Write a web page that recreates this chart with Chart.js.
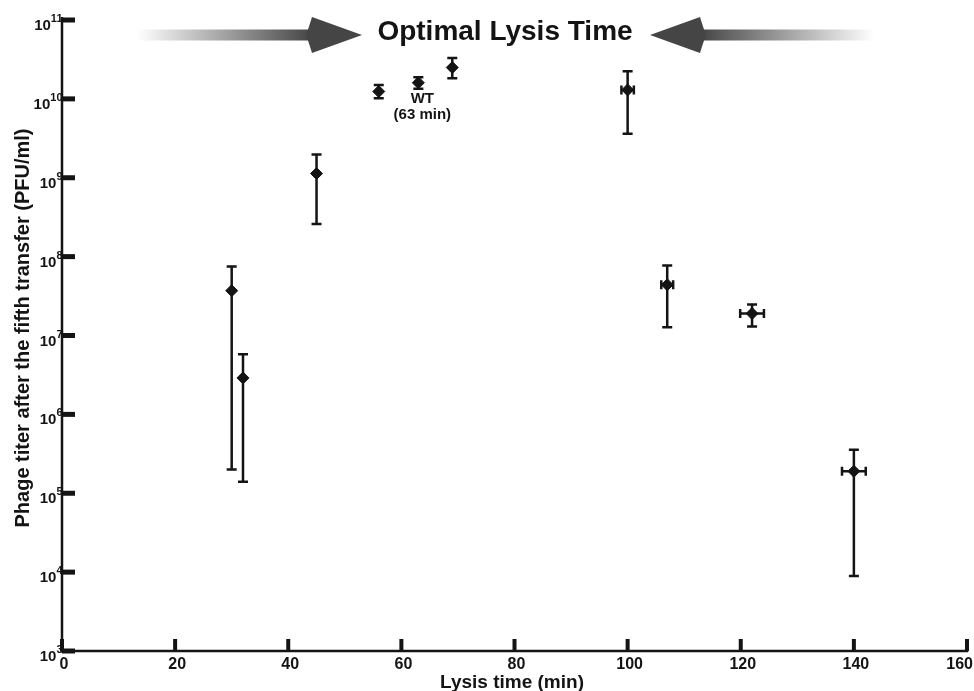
<!DOCTYPE html>
<html>
<head>
<meta charset="utf-8">
<title>Optimal Lysis Time</title>
<script src="https://cdn.jsdelivr.net/npm/chart.js@4.4.1/dist/chart.umd.min.js"></script>
<style>
    html, body { margin: 0; padding: 0; background: #fff; }
    #wrap { width: 974px; height: 691px; }
</style>
</head>
<body>
<div id="wrap"><canvas id="lysisChart" width="974" height="691"></canvas></div>
<script>
// lysis time (min) and phage titer after the fifth transfer (PFU/ml)
const lysisTime = [30, 32, 45, 56, 63, 69, 100, 107, 122, 140];
const titer = [3.7e7, 2.9e6, 1.13e9, 1.24e10, 1.6e10, 2.5e10, 1.3e10, 4.4e7, 1.9e7, 1.9e5];
const titerLow = [2.0e5, 1.4e5, 2.6e8, 1.02e10, 1.34e10, 1.83e10, 3.6e9, 1.27e7, 1.3e7, 8.9e3];
const titerHigh = [7.5e7, 5.8e6, 1.97e9, 1.5e10, 1.88e10, 3.3e10, 2.24e10, 7.7e7, 2.48e7, 3.57e5];
const timeErr = [0, 0, 0, 0, 0, 0, 1.1, 1.05, 2.1, 2.1];

const xTicks = [0, 20, 40, 60, 80, 100, 120, 140, 160];
const yExponents = [3, 4, 5, 6, 7, 8, 9, 10, 11];

const FONT = '"Liberation Sans", Arial, Helvetica, sans-serif';
const INK = '#141414';

document.addEventListener('DOMContentLoaded', function() {
    const points = lysisTime.map((t, i) => ({ x: t, y: titer[i] }));

    // error bars, drawn under the markers
    const errorBars = {
        id: 'errorBars',
        beforeDatasetsDraw(chart) {
            const ctx = chart.ctx;
            const xs = chart.scales.x;
            const ys = chart.scales.y;
            ctx.save();
            ctx.strokeStyle = INK;
            ctx.lineWidth = 2.5;
            ctx.lineCap = 'butt';
            lysisTime.forEach((t, i) => {
                const px = xs.getPixelForValue(t);
                const py = ys.getPixelForValue(titer[i]);
                const top = ys.getPixelForValue(titerHigh[i]);
                const bot = ys.getPixelForValue(titerLow[i]);
                ctx.beginPath();
                ctx.moveTo(px, top); ctx.lineTo(px, bot);
                ctx.moveTo(px - 5, top); ctx.lineTo(px + 5, top);
                ctx.moveTo(px - 5, bot); ctx.lineTo(px + 5, bot);
                if (timeErr[i] > 0) {
                    const l = xs.getPixelForValue(t - timeErr[i]);
                    const r = xs.getPixelForValue(t + timeErr[i]);
                    ctx.moveTo(l, py); ctx.lineTo(r, py);
                    ctx.moveTo(l, py - 4.5); ctx.lineTo(l, py + 4.5);
                    ctx.moveTo(r, py - 4.5); ctx.lineTo(r, py + 4.5);
                }
                ctx.stroke();
            });
            ctx.restore();
        }
    };

    function drawArrow(ctx, tailX, tipX, y) {
        const dir = tipX > tailX ? 1 : -1;
        const backX = tipX - dir * 50;
        const grad = ctx.createLinearGradient(tailX, 0, backX, 0);
        grad.addColorStop(0, 'rgba(255,255,255,1)');
        grad.addColorStop(1, '#454545');
        ctx.fillStyle = grad;
        ctx.fillRect(Math.min(tailX, backX + dir * 6), y - 5.5, Math.abs(backX + dir * 6 - tailX), 11);
        ctx.fillStyle = '#454545';
        ctx.beginPath();
        ctx.moveTo(tipX, y);
        ctx.lineTo(backX, y - 18);
        ctx.quadraticCurveTo(backX - dir * 3, y - 8, backX - dir * 6, y);
        ctx.quadraticCurveTo(backX - dir * 3, y + 8, backX, y + 18);
        ctx.closePath();
        ctx.fill();
    }

    // axes, ticks, labels, title and arrows
    const decorations = {
        id: 'decorations',
        afterDraw(chart) {
            const ctx = chart.ctx;
            const xs = chart.scales.x;
            const ys = chart.scales.y;
            const area = chart.chartArea;
            ctx.save();
            ctx.fillStyle = INK;

            // axis lines
            ctx.fillRect(area.left - 1.25, area.top - 3, 2.5, area.bottom - area.top + 4.5);
            ctx.fillRect(area.left - 1.25, area.bottom - 1.25, area.right - area.left + 2.5, 2.5);

            // y ticks + labels
            yExponents.forEach(e => {
                const py = ys.getPixelForValue(Math.pow(10, e));
                ctx.fillRect(area.left, py - 2.5, 13, 5);
                ctx.textBaseline = 'alphabetic';
                ctx.textAlign = 'right';
                ctx.font = 'bold 11px ' + FONT;
                const sup = String(e);
                const supW = ctx.measureText(sup).width;
                ctx.fillText(sup, area.left + 0.5, py + 2);
                ctx.font = 'bold 15px ' + FONT;
                ctx.fillText('10', area.left + 0.5 - supW, py + 10);
            });

            // x ticks + labels
            ctx.font = 'bold 16px ' + FONT;
            ctx.textAlign = 'center';
            xTicks.forEach(v => {
                const px = xs.getPixelForValue(v);
                ctx.fillRect(px - 2, area.bottom - 12, 4, 12);
                const w = ctx.measureText(String(v)).width;
                let cx = px + 2;
                if (cx + w / 2 > 973) cx = 973 - w / 2;
                ctx.fillText(String(v), cx, 669);
            });

            // axis titles
            ctx.font = 'bold 19px ' + FONT;
            ctx.fillText('Lysis time (min)', 512, 688);
            ctx.save();
            ctx.translate(29, 328);
            ctx.rotate(-Math.PI / 2);
            ctx.font = 'bold 20px ' + FONT;
            ctx.fillText('Phage titer after the fifth transfer (PFU/ml)', 0, 0);
            ctx.restore();

            // WT annotation
            const wtX = xs.getPixelForValue(63) + 4;
            ctx.font = 'bold 15px ' + FONT;
            ctx.fillText('WT', wtX, 103);
            ctx.fillText('(63 min)', wtX, 119);

            // title with arrows
            ctx.font = 'bold 28px ' + FONT;
            ctx.fillText('Optimal Lysis Time', 505, 40);
            drawArrow(ctx, 137, 362, 35);
            drawArrow(ctx, 874, 650, 35);
            ctx.restore();
        }
    };

    const ctx = document.getElementById('lysisChart').getContext('2d');
    new Chart(ctx, {
        type: 'scatter',
        data: {
            datasets: [{
                label: 'Phage titer',
                data: points,
                pointStyle: 'rectRot',
                pointRadius: 6,
                backgroundColor: INK,
                borderColor: INK,
                borderWidth: 1
            }]
        },
        options: {
            responsive: false,
            animation: false,
            layout: {
                padding: { left: 62, right: 4, top: 20, bottom: 40 }
            },
            scales: {
                x: { type: 'linear', min: 0, max: 160, display: false },
                y: { type: 'logarithmic', min: 1e3, max: 1e11, display: false }
            },
            plugins: {
                legend: { display: false },
                tooltip: { enabled: false }
            }
        },
        plugins: [errorBars, decorations]
    });
});
</script>
</body>
</html>
